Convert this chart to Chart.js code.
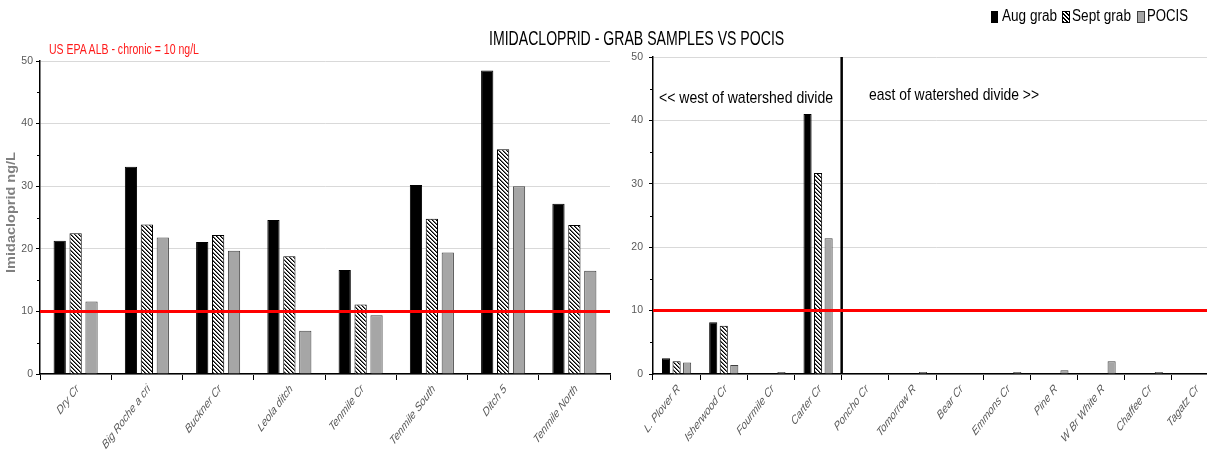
<!DOCTYPE html>
<html><head><meta charset="utf-8">
<script src="https://cdn.jsdelivr.net/npm/chart.js@4.4.1/dist/chart.umd.min.js"></script>
<style>
html,body{margin:0;padding:0;background:#fff;overflow:hidden;width:1207px;height:454px;position:relative}
canvas{position:absolute;top:0}
#c1{left:0}
#c2{left:615px}
.txt{position:absolute;white-space:nowrap;transform-origin:0 0;line-height:1;font-family:"Liberation Sans",Arial,sans-serif;color:#000}
.box{position:absolute;box-sizing:border-box}
</style></head><body>
<canvas id="c1" width="620" height="454" style="width:620px;height:454px"></canvas>
<canvas id="c2" width="620" height="454" style="width:620px;height:454px"></canvas>

<div class="txt" data-w="295" style="left:489px;top:27px;font-size:21px">IMIDACLOPRID - GRAB SAMPLES VS POCIS</div>
<div class="txt" data-w="150" style="left:49px;top:41px;font-size:15px;color:#ff1a1a">US EPA ALB - chronic = 10 ng/L</div>
<div class="txt" data-w="174" style="left:659px;top:89px;font-size:17px">&lt;&lt; west of watershed divide</div>
<div class="txt" data-w="170" style="left:869px;top:86px;font-size:17px">east of watershed divide &gt;&gt;</div>

<div class="box" style="left:991px;top:11px;width:7px;height:12px;background:#000"></div>
<div class="txt" data-w="55" style="left:1002px;top:8px;font-size:16px">Aug grab</div>
<div class="box" style="left:1062px;top:11px;width:8px;height:12px;border:1px solid #000;background:repeating-linear-gradient(45deg,#000 0 1px,#fff 1px 2.8px)"></div>
<div class="txt" data-w="59" style="left:1072px;top:8px;font-size:16px">Sept grab</div>
<div class="box" style="left:1137px;top:11px;width:8px;height:12px;border:1px solid #404040;background:#a6a6a6"></div>
<div class="txt" data-w="41" style="left:1147px;top:8px;font-size:16px">POCIS</div>

<script>
// ---- data ----
const leftCategories = ['Dry Cr','Big Roche a cri','Buckner Cr','Leola ditch','Tenmile Cr','Tenmile South','Ditch 5','Tenmile North'];
const leftAug   = [21.3, 33.1, 21.1, 24.6, 16.6, 30.2, 48.5, 27.2];
const leftSept  = [22.5, 23.9, 22.2, 18.8, 11.1, 24.8, 35.9, 23.8];
const leftPocis = [11.6, 21.8, 19.7, 6.9, 9.4, 19.4, 30.0, 16.5];

const rightCategories = ['L. Plover R','Isherwood Cr','Fourmile Cr','Carter Cr','Poncho Cr','Tomorrow R','Bear Cr','Emmons Cr','Pine R','W Br White R','Chaffee Cr','Tagatz Cr'];
const rightAug   = [2.5, 8.15, 0, 41.0, 0, 0, 0, 0, 0, 0, 0, 0];
const rightSept  = [2.0, 7.6, 0, 31.7, 0, 0, 0, 0, 0, 0, 0, 0];
const rightPocis = [1.8, 1.4, 0.3, 21.4, 0, 0.3, 0, 0.3, 0.6, 2.0, 0.3, 0];

const seriesNames = ['Aug grab','Sept grab','POCIS'];
const yTickValues = [0, 10, 20, 30, 40, 50];
const minorTickValues = [5, 15, 25, 35, 45];
const thresholdValue = 10;
const dividerAfterIndex = 3; // divide between Carter Cr and Poncho Cr
const yAxisTitle = 'Imidacloprid ng/L';

// ---- styles ----
const FONT = '"Liberation Sans",Arial,sans-serif';
const SQUEEZE = 0.75; // horizontal text compression seen in the reference

function makeHatch(){
  const c = document.createElement('canvas'); c.width = 4; c.height = 4;
  const g = c.getContext('2d');
  const img = g.createImageData(4,4);
  for(let y=0;y<4;y++) for(let x=0;x<4;x++){
    const d = ((x - y) % 4 + 4) % 4;
    const v = d===0 ? 0 : (d===1 ? 110 : 255);
    const i = (y*4+x)*4;
    img.data[i]=v; img.data[i+1]=v; img.data[i+2]=v; img.data[i+3]=255;
  }
  g.putImageData(img,0,0);
  return document.getElementById('c1').getContext('2d').createPattern(c,'repeat');
}
const hatch = makeHatch();

function datasets(a,s,p){
  return [
    {label:seriesNames[0], data:a, backgroundColor:'#000', borderColor:'#000', borderWidth:1},
    {label:seriesNames[1], data:s, backgroundColor:hatch, borderColor:'#000', borderWidth:1},
    {label:seriesNames[2], data:p, backgroundColor:'#a6a6a6', borderColor:'#404040', borderWidth:1}
  ];
}

const overlay = {
  id:'overlay',
  afterDatasetsDraw(chart, args, opts){
    const ctx = chart.ctx, y = chart.scales.y, x = chart.scales.x, ca = chart.chartArea;
    ctx.save();
    // minor ticks
    ctx.strokeStyle = '#000'; ctx.lineWidth = 1;
    minorTickValues.forEach(v=>{
      const py = Math.round(y.getPixelForValue(v)) + 0.5;
      ctx.beginPath(); ctx.moveTo(ca.left-3, py); ctx.lineTo(ca.left, py); ctx.stroke();
    });
    // divider
    if (opts.divider){
      const px = (x.getPixelForValue(dividerAfterIndex) + x.getPixelForValue(dividerAfterIndex+1))/2;
      ctx.strokeStyle = '#000'; ctx.lineWidth = 2.5;
      ctx.beginPath(); ctx.moveTo(px, y.getPixelForValue(50)); ctx.lineTo(px, y.getPixelForValue(0)); ctx.stroke();
    }
    // threshold
    const ty = y.getPixelForValue(thresholdValue);
    ctx.strokeStyle = '#ff0000'; ctx.lineWidth = 3;
    ctx.beginPath(); ctx.moveTo(ca.left, ty); ctx.lineTo(ca.right, ty); ctx.stroke();
    // squeezed rotated category labels
    ctx.fillStyle = '#595959';
    ctx.font = 'italic 12.5px ' + FONT;
    ctx.textAlign = 'right'; ctx.textBaseline = 'middle';
    chart.data.labels.forEach((lab,i)=>{
      const px = x.getPixelForValue(i);
      ctx.save();
      ctx.translate(px + 2, ca.bottom + 13);
      ctx.scale(SQUEEZE, 1);
      ctx.rotate(-Math.PI/4);
      ctx.fillText(lab, 0, 0);
      ctx.restore();
    });
    // y axis title
    if (opts.ytitle){
      ctx.save();
      ctx.fillStyle = '#808080';
      ctx.font = 'bold 14.5px ' + FONT;
      ctx.textAlign = 'center'; ctx.textBaseline = 'middle';
      ctx.translate(11, (ca.top + ca.bottom)/2 - 5);
      ctx.scale(0.9, 1);
      ctx.rotate(-Math.PI/2);
      ctx.fillText(yAxisTitle, 0, 0);
      ctx.restore();
    }
    ctx.restore();
  }
};

function makeOptions(cfg){
  return {
    responsive:false, animation:false, devicePixelRatio:1,
    layout:{padding:{top:cfg.top, right:cfg.right, left:0, bottom:0}},
    datasets:{bar:{categoryPercentage:0.67, barPercentage:0.77}},
    plugins:{legend:{display:false}, tooltip:{enabled:false}, overlay:{divider:cfg.divider, ytitle:cfg.ytitle}},
    scales:{
      x:{
        grid:{drawOnChartArea:false, drawTicks:true, tickLength:6, tickColor:'#000', offset:true},
        border:{color:'#000', width:1.5},
        ticks:{display:false, autoSkip:false},
        afterFit(s){ s.height = cfg.xh; }
      },
      y:{
        min:0, max:50,
        afterBuildTicks(s){ s.ticks = yTickValues.map(v=>({value:v})); },
        ticks:{color:'#595959', padding:cfg.ypad, font:{family:FONT, size:10.5}},
        grid:{color:'#d9d9d9', tickColor:'#000', tickLength:4, lineWidth:1},
        border:{color:'#000', width:1.5},
        afterFit(s){ s.width = cfg.yw; }
      }
    }
  };
}

new Chart(document.getElementById('c1'), {
  type:'bar',
  data:{labels:leftCategories, datasets:datasets(leftAug,leftSept,leftPocis)},
  options:makeOptions({top:61, right:10, xh:80, yw:40, ypad:3, ytitle:true, divider:false}),
  plugins:[overlay]
});
new Chart(document.getElementById('c2'), {
  type:'bar',
  data:{labels:rightCategories, datasets:datasets(rightAug,rightSept,rightPocis)},
  options:makeOptions({top:57, right:16, xh:80, yw:38, ypad:6, ytitle:false, divider:true}),
  plugins:[overlay]
});

// fit overlay text widths
document.querySelectorAll('.txt').forEach(el=>{
  const w = +el.dataset.w;
  const nat = el.getBoundingClientRect().width;
  if (w && nat) el.style.transform = 'scaleX(' + (w/nat).toFixed(3) + ')';
});
</script>
</body></html>
